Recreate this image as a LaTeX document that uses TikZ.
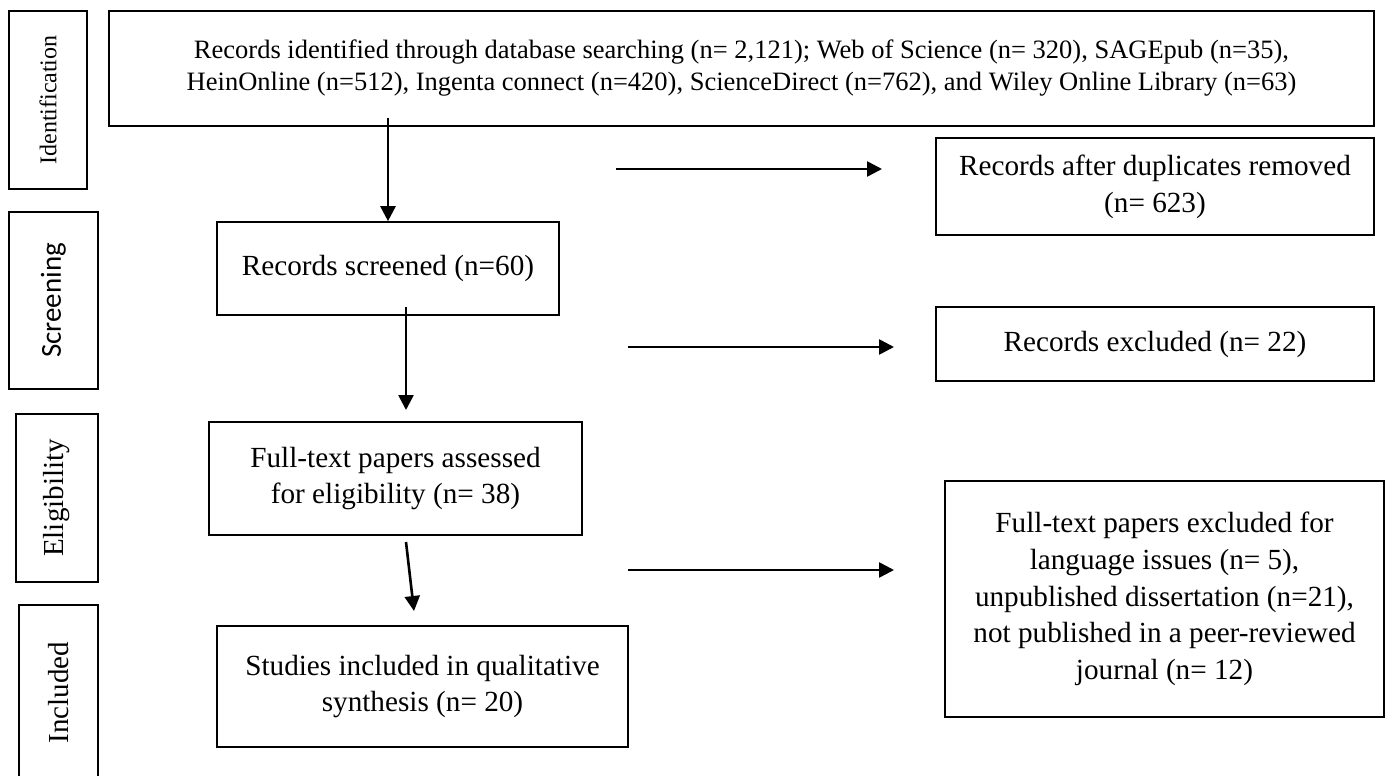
\documentclass[tikz,border=0pt]{standalone}
\usepackage{fontspec}
\setmainfont{Liberation Serif}
\newfontfamily\calibfont{Carlito}
\usetikzlibrary{arrows.meta,calc}
\begin{document}
\begin{tikzpicture}[x=1pt,y=-1pt,
  box/.style={draw=black,line width=1.6pt,inner sep=0pt,align=center},
  big/.style={font=\fontsize{29.2}{36.7}\selectfont},
  arr/.style={line width=2.6pt,-{Triangle[length=15pt,width=15pt]}},
]
\useasboundingbox (0,0) rectangle (1387,776);
\clip (0,0) rectangle (1387,776);
\fill[white] (0,0) rectangle (1387,776);

% stage labels
\node[box,rotate=90,minimum width=178pt,minimum height=78pt,font=\fontsize{24}{28}\selectfont] (ident) at (48,100) {Identification};
\node[box,rotate=90,minimum width=177pt,minimum height=89pt,font=\calibfont\fontsize{29}{34}\selectfont] (screen) at (53.5,300.5) {Screening};
\node[box,rotate=90,minimum width=168pt,minimum height=82pt,font=\fontsize{29}{34}\selectfont] (elig) at (57,498) {Eligibility};
\node[box,rotate=90,minimum width=175pt,minimum height=79pt,font=\fontsize{29}{34}\selectfont] (incl) at (58.5,692.5) {Included};

% flow boxes
\node[box,minimum width=1265pt,minimum height=115pt,font=\fontsize{26.5}{32}\selectfont] (main) at (741.5,68.5)
  {Records identified through database searching (n= 2,121); Web of Science (n= 320), SAGEpub (n=35),\\
   HeinOnline (n=512), Ingenta connect (n=420), ScienceDirect (n=762), and Wiley Online Library (n=63)};
\node[box,big,minimum width=342pt,minimum height=93pt] (scr) at (388,268.5) {Records screened (n=60)};
\node[box,big,minimum width=373pt,minimum height=113pt] (assess) at (395.5,478.5) {Full-text papers assessed\\for eligibility (n= 38)};
\node[box,big,minimum width=411pt,minimum height=121pt] (studies) at (422.5,686.5) {Studies included in qualitative\\synthesis (n= 20)};
\node[box,big,minimum width=438pt,minimum height=97pt] (dup) at (1155,186.5) {Records after duplicates removed\\(n= 623)};
\node[box,big,minimum width=438pt,minimum height=74pt] (recex) at (1155,344) {Records excluded (n= 22)};
\node[box,big,minimum width=439pt,minimum height=236pt] (ftex) at (1164.5,599)
  {Full-text papers excluded for\\language issues (n= 5),\\unpublished dissertation (n=21),\\not published in a peer-reviewed\\journal (n= 12)};

% free arrow ends
\coordinate (a2s) at (406,307);
\coordinate (a2e) at (406,410);
\coordinate (a3s) at (406,542);
\coordinate (a3e) at (414,611);
\coordinate (h1s) at (616,169);
\coordinate (h1e) at (882,169);
\coordinate (h2s) at (628,347);
\coordinate (h2e) at (894,347);
\coordinate (h3s) at (628,570);
\coordinate (h3e) at (894,570);

% connectors
\draw[arr] ([yshift=9pt]main.south -| scr.north) -- (scr.north);
\draw[arr] (a2s) -- (a2e);
\draw[arr] (a3s) -- (a3e);
\draw[arr] (h1s) -- (h1e);
\draw[arr] (h2s) -- (h2e);
\draw[arr] (h3s) -- (h3e);
\end{tikzpicture}
\end{document}
